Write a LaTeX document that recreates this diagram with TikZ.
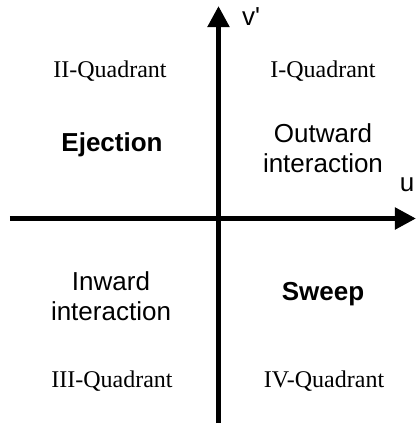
\documentclass[tikz,border=0pt]{standalone}
\usepackage{fontspec}
\setmainfont{Liberation Serif}
\setsansfont{Liberation Sans}
\usetikzlibrary{arrows.meta,positioning}

\begin{document}
\begin{tikzpicture}[x=0.5pt, y=0.5pt, font=\fontsize{12}{15}\selectfont,
    axis/.style={line width=2.5pt, -{Triangle[length=10.5pt, width=10.5pt]}},
    quad/.style={font=\fontsize{12}{15}\selectfont\rmfamily, anchor=base},
    event/.style={font=\fontsize{13}{15}\selectfont\sffamily, align=center}]
    \useasboundingbox (0,0) rectangle (417,425);
    % axes u and v'
    \coordinate (xl) at (10,206.5);
    \coordinate (xr) at (416,206.5);
    \coordinate (yb) at (218.5,2);
    \coordinate (yt) at (218.5,419);
    \draw[axis] (xl) -- (xr);
    \draw[axis] (yb) -- (yt);
    \node[event] (ulab) at (407,240) {u};
    \node[event] (vlab) at (251,408) {v\textquotesingle};
    % quadrant names
    \node[quad] (q2) at (110,348) {II-Quadrant};
    \node[quad] (q1) at (323,348) {I-Quadrant};
    \node[quad] (q3) at (112,38) {III-Quadrant};
    \node[quad] (q4) at (324,38) {IV-Quadrant};
    % events
    \node[event, anchor=base, font=\fontsize{13}{15}\selectfont\sffamily\bfseries] (eject) at (112,274) {Ejection};
    \node[event] (outw) at (323,277) {Outward\\interaction};
    \node[event] (inw) at (111,129) {Inward\\interaction};
    \node[event, anchor=base, font=\fontsize{13}{15}\selectfont\sffamily\bfseries] (sweep) at (323,125) {Sweep};
\end{tikzpicture}
\end{document}
